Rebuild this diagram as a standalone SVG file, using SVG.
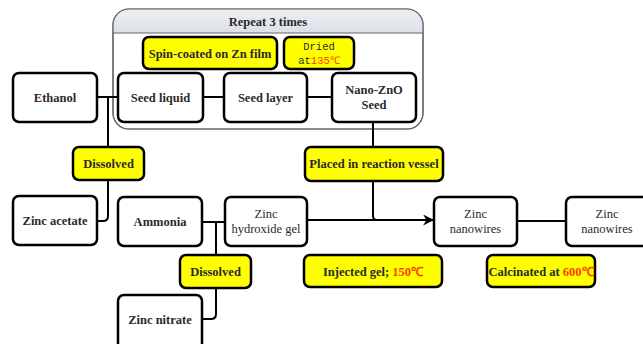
<svg xmlns="http://www.w3.org/2000/svg" width="643" height="344" viewBox="0 0 643 344">
<defs>
<linearGradient id="hdr" x1="0" y1="0" x2="0" y2="1">
<stop offset="0" stop-color="#eceff3"/>
<stop offset="1" stop-color="#d3d8df"/>
</linearGradient>
<clipPath id="topclip"><rect x="113" y="9" width="310" height="24"/></clipPath>
<marker id="arr" viewBox="0 0 10 10" refX="9" refY="5" markerWidth="11" markerHeight="11" orient="auto" markerUnits="userSpaceOnUse">
<path d="M0,0 L10,5 L0,10 L3,5 Z" fill="#000"/>
</marker>
</defs>
<style>
.box{fill:#fff;stroke:#000;stroke-width:2.5}
.yb{fill:#ffff00;stroke:#000;stroke-width:2.5}
.t{font-family:"Liberation Serif",serif;font-weight:bold;font-size:12.5px;fill:#2a2a2a;text-anchor:middle}
.tn{font-family:"Liberation Serif",serif;font-size:12.5px;fill:#2a2a2a;text-anchor:middle}
.m{font-family:"Liberation Mono",monospace;font-size:10.5px;fill:#2a2a2a;text-anchor:middle}
.red{fill:#ff3b00}
.c{fill:none;stroke:#000;stroke-width:2}
</style>
<rect width="643" height="344" fill="#fff"/>
<g id="repeat">
<rect x="113" y="9" width="310" height="120" rx="16" fill="#fff" stroke="#666" stroke-width="1.2"/>
<rect x="113" y="9" width="310" height="40" rx="16" fill="url(#hdr)" clip-path="url(#topclip)"/>
<rect x="113" y="9" width="310" height="120" rx="16" fill="none" stroke="#666" stroke-width="1.2"/>
<line x1="113" y1="33" x2="423" y2="33" stroke="#666" stroke-width="1.2"/>
<text class="t" x="268" y="25.5">Repeat 3 times</text>
</g>
<g id="connectors">
<line class="c" x1="97" y1="97" x2="118" y2="97"/>
<path class="c" d="M108,97 V147"/>
<path class="c" d="M108,180 V216 Q108,221 103,221 H97"/>
<line class="c" x1="203" y1="97" x2="224" y2="97"/>
<line class="c" x1="307" y1="97" x2="332" y2="97"/>
<path class="c" d="M373,122 V147"/>
<path class="c" d="M373,181 V216 Q373,220 377,220"/>
<line class="c" x1="202" y1="222" x2="225" y2="222"/>
<path class="c" d="M216,222 V255"/>
<path class="c" d="M216,288 V314 Q216,319 211,319 H202"/>
<line class="c" x1="307" y1="220" x2="433" y2="220" marker-end="url(#arr)"/>
<line class="c" x1="517" y1="221" x2="566" y2="221"/>
</g>
<g id="spin"><rect class="yb" x="143" y="37" width="134" height="32" rx="6"/><text class="t" x="210" y="57.5">Spin-coated on Zn film</text></g>
<g id="dried"><rect class="yb" x="284" y="37" width="70" height="32" rx="6"/><text class="m" x="319" y="50">Dried</text><text class="m" x="319" y="64">at<tspan class="red">135℃</tspan></text></g>
<g id="ethanol"><rect class="box" x="13" y="73" width="84" height="49" rx="6"/><text class="t" x="55" y="101.5">Ethanol</text></g>
<g id="seedliquid"><rect class="box" x="118" y="73" width="85" height="49" rx="6"/><text class="t" x="160.5" y="101.5">Seed liquid</text></g>
<g id="seedlayer"><rect class="box" x="224" y="73" width="83" height="49" rx="6"/><text class="t" x="265.5" y="101.5">Seed layer</text></g>
<g id="nanozno"><rect class="box" x="332" y="73" width="84" height="49" rx="6"/><text class="t" x="374" y="94">Nano-ZnO</text><text class="t" x="374" y="109">Seed</text></g>
<g id="dissolved1"><rect class="yb" x="73" y="147" width="71" height="33" rx="6"/><text class="t" x="108.5" y="168">Dissolved</text></g>
<g id="placed"><rect class="yb" x="305" y="147" width="138" height="34" rx="6"/><text class="t" x="374" y="168">Placed in reaction vessel</text></g>
<g id="zincacetate"><rect class="box" x="13" y="196" width="84" height="49" rx="6"/><text class="t" x="55" y="225">Zinc acetate</text></g>
<g id="ammonia"><rect class="box" x="118" y="197" width="84" height="49" rx="6"/><text class="t" x="160" y="225.5">Ammonia</text></g>
<g id="gel"><rect class="box" x="225" y="197" width="82" height="49" rx="6"/><text class="tn" x="266" y="218">Zinc</text><text class="tn" x="266" y="233">hydroxide gel</text></g>
<g id="nanowires1"><rect class="box" x="434" y="197" width="83" height="49" rx="6"/><text class="tn" x="475.5" y="218">Zinc</text><text class="tn" x="475.5" y="233">nanowires</text></g>
<g id="nanowires2"><rect class="box" x="566" y="197" width="90" height="49" rx="6"/><text class="tn" x="607" y="218">Zinc</text><text class="tn" x="607" y="233">nanowires</text></g>
<g id="dissolved2"><rect class="yb" x="180" y="255" width="71" height="33" rx="6"/><text class="t" x="215.5" y="276">Dissolved</text></g>
<g id="injected"><rect class="yb" x="304" y="255" width="138" height="32" rx="6"/><text class="t" x="373" y="275.5">Injected gel;  <tspan class="red">150℃</tspan></text></g>
<g id="calcinated"><rect class="yb" x="487" y="255" width="108" height="32" rx="6"/><text class="t" x="541" y="275.5">Calcinated at <tspan class="red">600℃</tspan></text></g>
<g id="zincnitrate"><rect class="box" x="118" y="295" width="84" height="60" rx="6"/><text class="t" x="160" y="324">Zinc nitrate</text></g>
</svg>
